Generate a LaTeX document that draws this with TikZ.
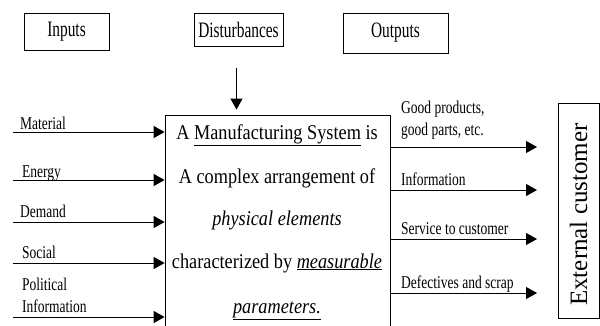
\documentclass[tikz,border=0pt]{standalone}
\usepackage{fontspec}
\setmainfont[FakeStretch=0.87]{Liberation Serif}
\newfontfamily\hdfont[FakeStretch=0.7]{Liberation Serif}
\newfontfamily\lblfont[FakeStretch=0.75]{Liberation Serif}
\newfontfamily\custfont{Liberation Serif}
\usetikzlibrary{arrows.meta}

\begin{document}
\begin{tikzpicture}[x=1pt, y=-1pt,
  hdr/.style={draw, line width=0.8pt, font=\hdfont\fontsize{22}{24}\selectfont, inner sep=0pt},
  lbl/.style={anchor=base west, font=\lblfont\fontsize{18}{20}\selectfont, inner sep=0pt},
  sysline/.style={anchor=base, font=\fontsize{21}{23}\selectfont, inner sep=0pt},
  sysbox/.style={draw, line width=0.8pt, minimum width=225pt, minimum height=220pt, inner sep=0pt},
  arr/.style={-{Triangle[length=11pt,width=12pt]}, line width=1pt},
]
\clip (0,0) rectangle (600,325);

% headings
\node[hdr, minimum width=85pt, minimum height=37pt] (inputs) at (66.5,31.5) {Inputs};
\node[hdr, minimum width=89pt, minimum height=33pt] (dist) at (238.5,29.5) {Disturbances};
\node[hdr, minimum width=105pt, minimum height=40pt] (outputs) at (395.5,33) {Outputs};

% the system itself (runs off the bottom)
\node[sysbox] (sys) at (277.5,225) {};
\node[sysline] (t1) at (277,139) {A \underline{Manufacturing System} is};
\node[sysline] (t2) at (277,183) {A complex arrangement of};
\node[sysline] (t3) at (277,225) {\itshape physical elements};
\node[sysline] (t4) at (277,268) {characterized by \underline{\itshape measurable}};
\node[sysline] (t5) at (277,313) {\underline{\itshape parameters.}};

% disturbance arrow
\coordinate (dtop) at (236.5,68);
\draw[arr, shorten >=5pt] (dtop) -- (dtop |- sys.north);

% inputs
\coordinate (in1) at (13,132);
\coordinate (in2) at (13,180);
\coordinate (in3) at (13,222);
\coordinate (in4) at (13,263);
\coordinate (in5) at (13,317);
\foreach \i in {1,...,5}
  \draw[arr] (in\i) -- (in\i -| sys.west);
\node[lbl] (l1) at (20,129) {Material};
\node[lbl] (l2) at (22,177) {Energy};
\node[lbl] (l3) at (20,217) {Demand};
\node[lbl] (l4) at (22,258) {Social};
\node[lbl] (l5) at (22,290) {Political};
\node[lbl] (l6) at (22,312) {Information};

% external customer
\node[draw, line width=0.8pt, minimum width=41pt, minimum height=215pt, inner sep=0pt]
  (cust) at (578.5,210.5) {};
\node[rotate=90, font=\custfont\fontsize{25}{27}\selectfont, inner sep=0pt]
  (custtxt) at ([yshift=-4pt]cust.center) {External customer};

% outputs
\coordinate (out1) at (537,147);
\coordinate (out2) at (537,190);
\coordinate (out3) at (537,239);
\coordinate (out4) at (537,293);
\foreach \i in {1,...,4}
  \draw[arr] (out\i -| sys.east) -- (out\i);
\node[lbl] (o1) at (401,113) {Good products,};
\node[lbl] (o1b) at (401,135) {good parts, etc.};
\node[lbl] (o2) at (401,185) {Information};
\node[lbl] (o3) at (401,234) {Service to customer};
\node[lbl] (o4) at (401,288) {Defectives and scrap};
\end{tikzpicture}
\end{document}
